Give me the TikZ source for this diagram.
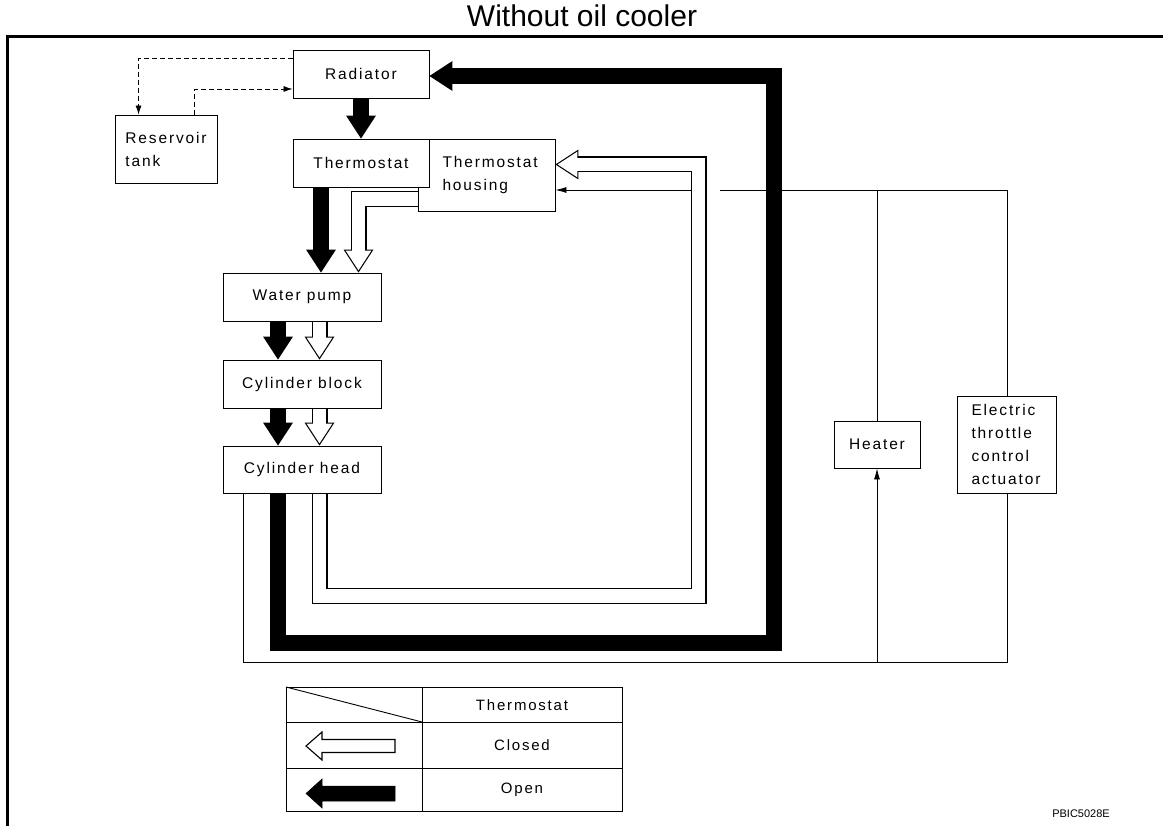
\documentclass[tikz,border=0pt]{standalone}
\usepackage{fontspec}
\setmainfont{Liberation Sans}
\newfontfamily\lblfont[LetterSpace=12]{Liberation Sans}
\usetikzlibrary{arrows.meta,backgrounds}
\newcommand{\closedpipe}[1]{\draw[closedout] #1; \draw[closedin] #1;}

\begin{document}
\begin{tikzpicture}[
  x=1pt, y=-1pt,
  box/.style={draw, fill=white, line width=0.9pt, inner sep=0pt, minimum height=48pt, align=center,
    font=\lblfont\fontsize{15.5}{23}\selectfont},
  legtxt/.style={font=\lblfont\fontsize{15}{18}\selectfont},
  pipe/.style={line width=0.8pt},
  tip/.style={-{Latex[length=11pt,width=6pt]}},
  dashflow/.style={line width=0.8pt, dash pattern=on 5pt off 3pt, -{Latex[length=9pt,width=6pt]}},
  openflow/.style={line width=16pt, -{Triangle[length=23pt,width=30pt,line width=0pt]}},
  closedout/.style={line width=16pt, -{Triangle[length=23pt,width=30pt,line width=0pt]}},
  closedin/.style={white, line width=13.6pt, shorten >=2.2pt, -{Triangle[length=19.6pt,width=25.6pt,line width=0pt]}},
]
\useasboundingbox (0,0) rectangle (1163,826);
\draw[line width=3pt] (7,826) -- (7,37) -- (1163,37);
\node[font=\fontsize{30}{36}\selectfont] (title) at (582,16) {Without oil cooler};

\node[box, minimum width=136pt] (rad) at (361,74) {Radiator};
\node[box, minimum width=102pt, minimum height=68pt, align=left] (res) at (166,149) {Reservoir\\tank};
\node[box, minimum height=72pt, text width=112pt, inner xsep=12.5pt, align=left] (housing) at (486.5,175) {\hspace*{12pt}Thermostat\\\hspace*{12pt}housing};
\node[box, minimum width=136pt] (thermo) at (361,163) {Thermostat};
\node[box, minimum width=158pt] (wp) at (302,297) {Water pump};
\node[box, minimum width=158pt] (cb) at (302,384) {Cylinder block};
\node[box, minimum width=158pt, minimum height=47pt] (ch) at (302,469.5) {Cylinder head};
\node[box, minimum width=86pt, minimum height=47pt] (heater) at (877,444.5) {Heater};
\node[box, minimum height=97pt, text width=71pt, inner xsep=14pt, align=left] (etc) at (1007,444.5) {Electric\\throttle\\control\\actuator};

\coordinate (openbr) at (774,643);
\coordinate (closedbr) at (698.5,596);
\coordinate (lowret) at (1007,662);
\coordinate (upret) at (720,190);
\coordinate (upin) at (691,190);

\begin{scope}[on background layer]
\draw[dashflow] ([yshift=16pt]rad.west) -| ([xshift=24pt]res.north west);
\draw[dashflow] ([xshift=-23pt]res.north east) |- ([yshift=-15pt]rad.west);
\draw[pipe] ([xshift=-59pt]ch.south) |- (lowret) -- (etc.south);
\draw[pipe] (etc.north) |- (upret);
\draw[pipe, tip] (heater.south |- lowret) -- (heater.south);
\draw[pipe] (heater.north) -- (heater.north |- upret);
\draw[pipe, tip] (upin) -- (upin -| housing.east);
\draw[openflow] (rad.south) -- (thermo.north);
\draw[openflow] ([xshift=-40pt]thermo.south) -- ([xshift=-40pt]thermo.south |- wp.north);
\draw[openflow] ([xshift=-24pt]wp.south) -- ([xshift=-24pt]cb.north);
\draw[openflow] ([xshift=-24pt]cb.south) -- ([xshift=-24pt]ch.north);
\draw[openflow] ([xshift=-24pt]ch.south) |- (openbr) |- ([yshift=-2pt]rad.east);
\closedpipe{([yshift=-24pt]housing.west) -| ([xshift=56.5pt]wp.north)}
\closedpipe{([xshift=17.5pt]wp.south) -- ([xshift=17.5pt]cb.north)}
\closedpipe{([xshift=17.5pt]cb.south) -- ([xshift=17.5pt]ch.north)}
\closedpipe{([xshift=17.5pt]ch.south) |- (closedbr) |- ([yshift=10.5pt]housing.east)}
\end{scope}

\draw[line width=0.9pt] (286,687) rectangle (622,811);
\draw[line width=0.9pt] (422,687) -- (422,811);
\draw[line width=0.9pt] (286,722) -- (622,722);
\draw[line width=0.9pt] (286,768) -- (622,768);
\draw[line width=0.9pt] (286,687) -- (422,722);
\node[legtxt] (lgstat) at (522,705) {Thermostat};
\node[legtxt] (lgclosed) at (522,745) {Closed};
\node[legtxt] (lgopen) at (522,790) {Open};
\draw[line width=1.1pt, fill=white] (306,746) -- (322,732) -- (322,739.5) -- (395,739.5) -- (395,752.5) -- (322,752.5) -- (322,760) -- cycle;
\draw[line width=0.5pt, fill=black] (306,793.5) -- (322,779) -- (322,786) -- (395,786) -- (395,801) -- (322,801) -- (322,808) -- cycle;

\node[font=\fontsize{11}{13}\selectfont] (code) at (1081,814) {PBIC5028E};
\end{tikzpicture}
\end{document}
